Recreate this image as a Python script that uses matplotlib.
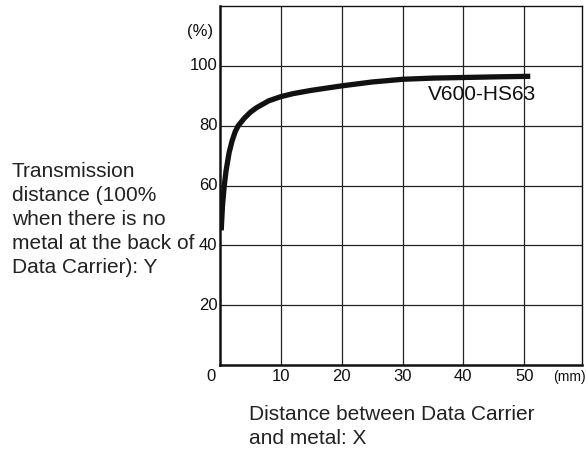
import matplotlib
matplotlib.use("Agg")
import matplotlib.pyplot as plt
from matplotlib import font_manager

# Data
x_mm = [0.2, 0.4, 0.7, 1.0, 1.5, 2.0, 2.5, 3.0, 4.0, 5.0, 6.0, 8.0, 10, 12, 15, 20, 25, 30, 35, 40, 45, 51]
y_pct = [45, 53, 60, 65, 71, 75, 78, 80, 82.5, 84.5, 86, 88.3, 89.7, 90.7, 91.8, 93.3, 94.6, 95.5, 95.9, 96.1, 96.3, 96.5]
x_ticks = [0, 10, 20, 30, 40, 50]
y_ticks = [20, 40, 60, 80, 100]
series_name = "V600-HS63"

avail = {f.name for f in font_manager.fontManager.ttflist}
narrow = "Liberation Sans Narrow" if "Liberation Sans Narrow" in avail else "Liberation Sans"

fig = plt.figure(figsize=(5.87, 4.51), dpi=100)
W, H = 587, 451
left, right, top, bottom = 220, 582, 6, 365
ax = fig.add_axes([left / W, 1 - bottom / H, (right - left) / W, (bottom - top) / H])
ax.set_xlim(0, 59.5)
ax.set_ylim(0, 120)

for xv in [10, 20, 30, 40, 50]:
    ax.axvline(xv, color="#222222", lw=0.9, zorder=1)
for yv in y_ticks:
    ax.axhline(yv, color="#222222", lw=0.9, zorder=1)

ax.plot(x_mm, y_pct, color="#111111", lw=3.8, solid_capstyle="butt",
        solid_joinstyle="round", zorder=3)

for s in ax.spines.values():
    s.set_color("#111111")
    s.set_linewidth(1.0)
ax.spines["left"].set_linewidth(1.8)
ax.spines["bottom"].set_linewidth(1.8)
ax.set_xticks([])
ax.set_yticks([])

tick_font = dict(family=[narrow, "DejaVu Sans"], fontsize=12, color="#111111")
for yv in y_ticks:
    ax.text(-0.4, yv, str(yv), ha="right", va="center", **tick_font)
for xv in x_ticks:
    if xv == 0:
        ax.text(-1.5, -4, "0", ha="center", va="center", **tick_font)
    else:
        ax.text(xv, -4, str(xv), ha="center", va="center", **tick_font)
ax.text(57.5, -4, "(mm)", ha="center", va="center", family=[narrow, "DejaVu Sans"], fontsize=10, color="#111111")
ax.text(-3.3, 111.5, "(%)", ha="center", va="center", family=[narrow, "DejaVu Sans"], fontsize=12, color="#111111")

ax.text(43.1, 90.3, series_name, ha="center", va="center", family=["Liberation Sans", "DejaVu Sans"], fontsize=15, color="#111111")

lab_font = dict(family=["Liberation Sans", "DejaVu Sans"], fontsize=15, color="#222222")
fig.text(12 / W, 1 - 162 / H,
         "Transmission\ndistance (100%\nwhen there is no\nmetal at the back of\nData Carrier): Y",
         ha="left", va="top", linespacing=1.33, **lab_font)
fig.text(249 / W, 1 - 405 / H, "Distance between Data Carrier\nand metal: X",
         ha="left", va="top", linespacing=1.33, **lab_font)

fig.savefig("out.png", dpi=100, facecolor="white")
